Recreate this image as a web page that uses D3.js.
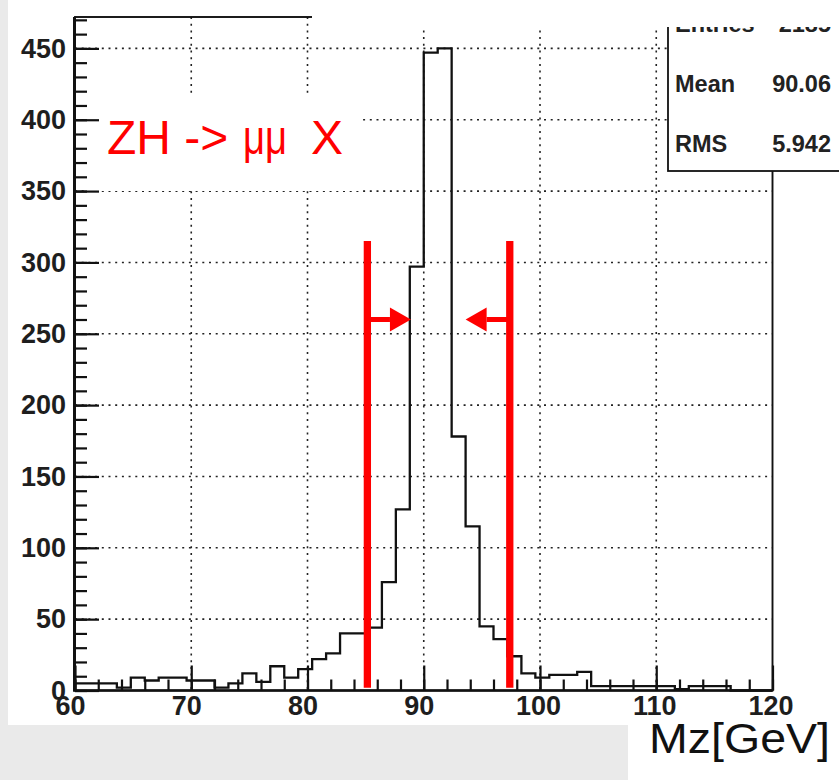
<!DOCTYPE html>
<html>
<head>
<meta charset="utf-8">
<script src="https://cdn.jsdelivr.net/npm/d3@7"></script>
<style>
  body { margin: 0; background: #eaeaea; }
  svg { display: block; }
  text { font-family: "Liberation Sans", Arial, sans-serif; }
</style>
</head>
<body>
<svg width="839" height="780"></svg>
<script>
// Mz histogram, 50 bins from 60 to 120 GeV
let xMin = 60, xMax = 120, nBins = 50
let counts = [5, 5, 5, 2, 9, 7, 9, 9, 7, 7,
              2, 5, 12, 6, 17, 9, 15, 22, 26, 40,
              40, 44, 76, 127, 297, 447, 450, 178, 115, 45,
              36, 24, 12, 9, 11, 11, 13, 3, 3, 3,
              3, 3, 3, 1, 3, 3, 3, 0, 0, 0]
let xMajor = [60, 70, 80, 90, 100, 110, 120]
let yMajor = [0, 50, 100, 150, 200, 250, 300, 350, 400, 450]
let statNames = ["Entries", "Mean", "RMS"]
let statValues = ["2185", "90.06", "5.942"]
let cuts = [85.15, 97.4]          // mass window lines
let arrowTips = [88.9, 93.6]      // arrows pointing into the window
let arrowLevel = 260, cutTop = 315, cutBottom = 2

let svg = d3.select("svg")

// slide background pieces
svg.append("rect").attr("x", 8).attr("y", 0).attr("width", 831).attr("height", 725).attr("fill", "#fff")
svg.append("rect").attr("x", 628).attr("y", 725).attr("width", 211).attr("height", 55).attr("fill", "#fff")

let x = d3.scaleLinear().domain([xMin, xMax]).range([75, 772.5])
let y = d3.scaleLinear().domain([0, 472]).range([690.5, 17])

let binW = (xMax - xMin) / nBins
let edges = d3.range(nBins + 1).map(i => xMin + i * binW)

// grid
let grid = svg.append("g")
    .attr("stroke", "#222")
    .attr("stroke-width", 1.6)
    .attr("stroke-dasharray", "2,4.7")
grid.selectAll(".vgrid")
  .data(xMajor.slice(1, -1))
  .enter().append("line")
    .attr("x1", d => x(d)).attr("x2", d => x(d))
    .attr("y1", y(472)).attr("y2", y(0))
grid.selectAll(".hgrid")
  .data(yMajor.slice(1))
  .enter().append("line")
    .attr("x1", x(xMin)).attr("x2", x(xMax))
    .attr("y1", d => y(d)).attr("y2", d => y(d))

// white label box hides the grid behind the title
svg.append("rect").attr("x", 88).attr("y", 95).attr("width", 275).attr("height", 96).attr("fill", "#fff")

// histogram outline
let pts = [[xMin, 0]]
counts.forEach((c, i) => pts.push([edges[i], c]))
pts.push([xMax, counts[nBins - 1]])
pts.push([xMax, 0])

let line = d3.line()
    .x(d => x(d[0]))
    .y(d => y(d[1]))
    .curve(d3.curveStepAfter)

svg.append("path")
    .attr("d", line(pts))
    .attr("fill", "none")
    .attr("stroke", "#111")
    .attr("stroke-width", 2.3)

// frame
svg.append("rect")
    .attr("x", x(xMin)).attr("y", y(472))
    .attr("width", x(xMax) - x(xMin)).attr("height", y(0) - y(472))
    .attr("fill", "none").attr("stroke", "#111").attr("stroke-width", 1.9)
svg.append("line")
    .attr("x1", x(xMin) - 0.5).attr("x2", x(xMin) - 0.5)
    .attr("y1", y(472)).attr("y2", y(0))
    .attr("stroke", "#111").attr("stroke-width", 3)
svg.append("line")
    .attr("x1", x(xMin) - 2).attr("x2", x(xMax))
    .attr("y1", y(0)).attr("y2", y(0))
    .attr("stroke", "#111").attr("stroke-width", 2.6)

function styleAxis(g) {
  g.select(".domain").remove()
  g.selectAll(".tick line").attr("stroke", "#111").attr("stroke-width", 2.2)
  g.selectAll(".tick text")
    .attr("fill", "#1e1e1e")
    .style("font-family", "'Liberation Sans', Arial, sans-serif")
    .style("font-size", "27px")
    .style("font-weight", "bold")
}

// y axis
svg.append("g")
    .attr("transform", "translate(" + x(xMin) + ",0)")
    .call(d3.axisLeft(y).tickValues(d3.range(0, 471, 10)).tickSizeInner(-12).tickSizeOuter(0).tickFormat(""))
    .call(styleAxis)
svg.append("g")
    .attr("transform", "translate(" + x(xMin) + ",0)")
    .call(d3.axisLeft(y).tickValues(yMajor).tickSizeInner(-24).tickSizeOuter(0).tickPadding(9))
    .call(styleAxis)

// x axis
svg.append("g")
    .attr("transform", "translate(0," + y(0) + ")")
    .call(d3.axisBottom(x).tickValues(d3.range(xMin, xMax + 1, 2)).tickSizeInner(-11).tickSizeOuter(0).tickFormat(""))
    .call(styleAxis)
let xAxis = svg.append("g")
    .attr("transform", "translate(0," + y(0) + ")")
    .call(d3.axisBottom(x).tickValues(xMajor).tickSizeInner(-25).tickSizeOuter(0).tickPadding(5))
    .call(styleAxis)
xAxis.selectAll(".tick text").attr("dx", d => d >= 100 ? -2 : -5)

// stats box
svg.append("rect")
    .attr("x", 668).attr("y", -5).attr("width", 200).attr("height", 176)
    .attr("fill", "#fff").attr("stroke", "#111").attr("stroke-width", 1.8)
let stats = svg.append("g")
    .style("font-size", "23.5px").style("font-weight", "bold").attr("fill", "#222")
stats.selectAll(".sname")
  .data(statNames)
  .enter().append("text")
    .attr("x", 675).attr("y", (d, i) => 31.7 + i * 60)
    .text(d => d)
stats.selectAll(".sval")
  .data(statValues)
  .enter().append("text")
    .attr("x", 831).attr("y", (d, i) => 31.7 + i * 60)
    .attr("text-anchor", "end")
    .text(d => d)

// pasted-over strip along the top
svg.append("rect").attr("x", 312).attr("y", 0).attr("width", 527).attr("height", 27).attr("fill", "#fff")

// red annotations
let red = "#ff0000"
let ann = svg.append("g")
ann.selectAll(".cut")
  .data(cuts)
  .enter().append("line")
    .attr("x1", d => x(d)).attr("x2", d => x(d))
    .attr("y1", y(cutTop)).attr("y2", y(cutBottom))
    .attr("stroke", red).attr("stroke-width", 7.3)

let headLen = 21, headHalf = 12
cuts.forEach((c, i) => {
  let x0 = x(c), tip = x(arrowTips[i])
  let dir = tip > x0 ? 1 : -1
  let base = tip - dir * headLen
  let ya = y(arrowLevel)
  ann.append("line")
      .attr("x1", x0).attr("x2", base)
      .attr("y1", ya).attr("y2", ya)
      .attr("stroke", red).attr("stroke-width", 5)
  ann.append("path")
      .attr("d", "M" + base + "," + (ya - headHalf) + "L" + tip + "," + ya + "L" + base + "," + (ya + headHalf) + "Z")
      .attr("fill", red)
})

ann.append("text").attr("x", 107).attr("y", 154)
    .attr("fill", red).style("font-size", "48px").text("ZH ->")
ann.append("text").attr("x", 243).attr("y", 154)
    .attr("fill", red).style("font-size", "48px")
    .attr("textLength", 44).attr("lengthAdjust", "spacingAndGlyphs").text("μμ")
ann.append("text").attr("x", 311).attr("y", 154)
    .attr("fill", red).style("font-size", "48px").text("X")

// axis title
svg.append("text")
    .attr("x", 649).attr("y", 753)
    .attr("fill", "#111").style("font-size", "42px")
    .attr("textLength", 181).attr("lengthAdjust", "spacingAndGlyphs")
    .text("Mz[GeV]")
</script>
</body>
</html>
